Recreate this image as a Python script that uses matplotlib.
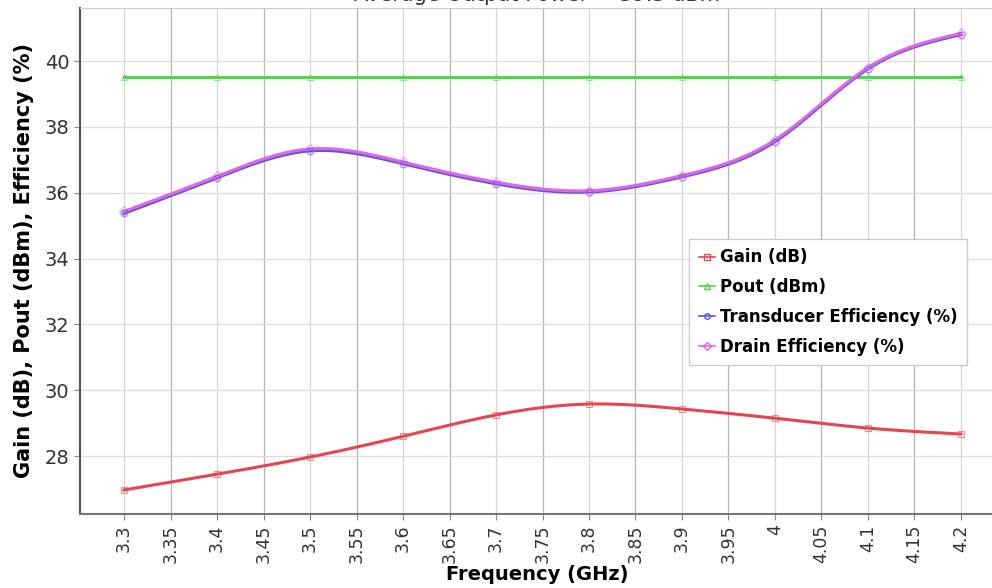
import numpy as np
import matplotlib
matplotlib.use("Agg")
import matplotlib.pyplot as plt
from matplotlib.ticker import MultipleLocator

freq = [3.3, 3.4, 3.5, 3.6, 3.7, 3.8, 3.9, 4.0, 4.1, 4.2]
gain = [26.97, 27.45, 27.97, 28.6, 29.25, 29.58, 29.43, 29.15, 28.85, 28.67]
pout = [39.5, 39.5, 39.5, 39.5, 39.5, 39.5, 39.5, 39.5, 39.5, 39.5]
trans_eff = [35.37, 36.45, 37.27, 36.88, 36.27, 36.02, 36.48, 37.55, 39.76, 40.80]
drain_eff = [35.43, 36.50, 37.33, 36.93, 36.32, 36.06, 36.52, 37.60, 39.80, 40.84]
xticks = [3.3, 3.35, 3.4, 3.45, 3.5, 3.55, 3.6, 3.65, 3.7, 3.75, 3.8, 3.85,
          3.9, 3.95, 4.0, 4.05, 4.1, 4.15, 4.2]
xtick_labels = ["3.3", "3.35", "3.4", "3.45", "3.5", "3.55", "3.6", "3.65", "3.7",
                "3.75", "3.8", "3.85", "3.9", "3.95", "4", "4.05", "4.1", "4.15", "4.2"]


def smooth(x, y, n=300):
    x = np.asarray(x, float); y = np.asarray(y, float)
    k = len(x); h = np.diff(x)
    A = np.zeros((k, k)); b = np.zeros(k)
    A[0, 0] = A[-1, -1] = 1
    for i in range(1, k - 1):
        A[i, i - 1] = h[i - 1]; A[i, i] = 2 * (h[i - 1] + h[i]); A[i, i + 1] = h[i]
        b[i] = 3 * ((y[i + 1] - y[i]) / h[i] - (y[i] - y[i - 1]) / h[i - 1])
    c = np.linalg.solve(A, b)
    xs = np.linspace(x[0], x[-1], n); ys = np.empty_like(xs)
    for j, xv in enumerate(xs):
        i = min(np.searchsorted(x, xv) - 1, k - 2); i = max(i, 0)
        dx = xv - x[i]
        bb = (y[i + 1] - y[i]) / h[i] - h[i] * (2 * c[i] + c[i + 1]) / 3
        d = (c[i + 1] - c[i]) / (3 * h[i])
        ys[j] = y[i] + bb * dx + c[i] * dx ** 2 + d * dx ** 3
    return xs, ys


plt.rcParams['font.family'] = ['DejaVu Sans']
fig = plt.figure(figsize=(9.92, 5.88), dpi=100)
ax = fig.add_axes([80 / 992, 1 - 514 / 588, 912 / 992, 506 / 588])

series = [
    ("Gain (dB)", gain, "#e8434f", "s"),
    ("Pout (dBm)", pout, "#4fd64a", "^"),
    ("Transducer Efficiency (%)", trans_eff, "#5a55e0", "o"),
    ("Drain Efficiency (%)", drain_eff, "#e066e6", "D"),
]
for name, vals, col, mk in series:
    xs, ys = smooth(freq, vals)
    ax.plot(xs, ys, color=col, lw=2.2, zorder=3)
    ax.plot(freq, vals, ls='none', marker=mk, ms=5, mfc='none', mec=col,
            mew=0.8, alpha=0.6, zorder=4)
    ax.plot([], [], color=col, lw=1.2, marker=mk, ms=4, mfc='none', mec=col,
            label=name)

ax.set_xlim(3.2526, 4.2334)
ax.set_ylim(26.24, 41.61)
ax.set_xticks(xticks)
ax.set_xticklabels(xtick_labels, rotation=90, fontsize=12.5, color='#333333')
ax.yaxis.set_major_locator(MultipleLocator(2))
ax.tick_params(axis='y', labelsize=14, colors='#333333')
ax.tick_params(axis='both', length=4, color='#888888')
for i, xt in enumerate(xticks):
    ax.axvline(xt, color='#d6d6d6' if i % 2 == 0 else '#b5b5b5', lw=0.9, zorder=1)
ax.grid(axis='y', color='#dcdcdc', lw=0.9, zorder=1)
ax.spines['left'].set_color('#555555'); ax.spines['left'].set_linewidth(1.5)
ax.spines['bottom'].set_color('#777777'); ax.spines['bottom'].set_linewidth(1.5)
ax.spines['top'].set_color('#cccccc')
ax.spines['right'].set_visible(False)

ax.set_xlabel("Frequency (GHz)", fontsize=14, fontweight='bold')
ax.xaxis.set_label_coords((537 - 80) / 912, -61 / 506)
ax.xaxis.label.set_va('center')
ax.set_ylabel("Gain (dB), Pout (dBm), Efficiency (%)", fontsize=15, fontweight='bold')
ax.yaxis.set_label_coords(-46 / 912, 0.5)

leg = ax.legend(loc='upper left', bbox_to_anchor=((681 - 80) / 912, 1 - (231 - 8) / 506),
                prop={'weight': 'bold', 'size': 12}, handlelength=1.0,
                handletextpad=0.3, borderpad=0.55, labelspacing=0.7,
                fancybox=False, framealpha=1, edgecolor='#cccccc')

fig.text(537 / 992, 1 - 1 / 588, "Average Output Power = 39.5 dBm", ha='center',
         va='baseline', fontsize=15, color='#333333')

fig.savefig("out.png", dpi=100)
